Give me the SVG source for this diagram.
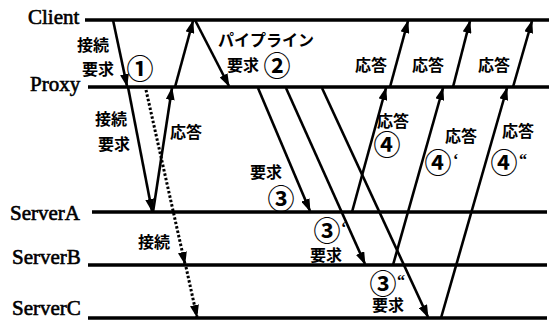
<svg xmlns="http://www.w3.org/2000/svg" width="549" height="320" viewBox="0 0 549 320">
<defs>
<marker id="ah" markerUnits="userSpaceOnUse" markerWidth="13" markerHeight="9" refX="12" refY="4.5" orient="auto">
<path d="M0,0 L13,4.5 L0,9 z" fill="#000"/>
</marker>
</defs>
<style>
.lane{stroke:#000;stroke-width:3.5;fill:none}
.lbl{font-family:"Liberation Serif","Times New Roman",serif;font-size:21px;fill:#000;stroke:#000;stroke-width:0.6}
.a{stroke:#000;stroke-width:2.6;fill:none;marker-end:url(#ah)}
.d{stroke:#000;stroke-width:3;fill:none;stroke-dasharray:2.5 2;marker-end:url(#ah)}
.j{font-family:"Noto Sans CJK JP","Noto Sans",sans-serif;font-weight:bold;font-size:16px;fill:#000}
.c{font-family:"Noto Sans CJK JP","Noto Sans",sans-serif;font-weight:bold;font-size:27px;fill:#000;text-anchor:middle;dominant-baseline:central}
.p{font-family:"Liberation Serif",serif;font-weight:bold;font-size:16px;fill:#000}
</style>
<rect width="549" height="320" fill="#fff"/>
<g id="Client"><line class="lane" x1="85" y1="20" x2="549" y2="20"/><text class="lbl" x="28" y="24">Client</text></g>
<g id="Proxy"><line class="lane" x1="88" y1="87" x2="549" y2="87"/><text class="lbl" x="30" y="91">Proxy</text></g>
<g id="ServerA"><line class="lane" x1="92" y1="212" x2="547" y2="212"/><text class="lbl" x="10" y="220">ServerA</text></g>
<g id="ServerB"><line class="lane" x1="88" y1="265" x2="547" y2="265"/><text class="lbl" x="12" y="264">ServerB</text></g>
<g id="ServerC"><line class="lane" x1="88" y1="318" x2="547" y2="318"/><text class="lbl" x="12" y="315">ServerC</text></g>
<g id="connectors">
<line class="a" x1="113" y1="20" x2="127" y2="86"/>
<line class="a" x1="128" y1="87" x2="152" y2="211"/>
<line class="a" x1="153" y1="212" x2="172" y2="88"/>
<line class="a" x1="175" y1="87" x2="193" y2="21"/>
<line class="d" x1="146" y1="90" x2="185" y2="264"/>
<line class="d" x1="186" y1="267" x2="197" y2="317"/>
<line class="a" x1="195" y1="20" x2="229" y2="86"/>
<line class="a" x1="258" y1="88" x2="310" y2="211"/>
<line class="a" x1="286" y1="88" x2="365" y2="264"/>
<line class="a" x1="322" y1="88" x2="428" y2="317"/>
<line class="a" x1="352" y1="212" x2="386" y2="88"/>
<line class="a" x1="390" y1="87" x2="408" y2="21"/>
<line class="a" x1="393" y1="265" x2="443" y2="88"/>
<line class="a" x1="453" y1="87" x2="470" y2="21"/>
<line class="a" x1="441" y1="318" x2="507" y2="88"/>
<line class="a" x1="513" y1="87" x2="532" y2="21"/>
</g>
<g id="labels">
<text class="j" x="77" y="51">接続</text>
<text class="j" x="82" y="75">要求</text>
<text class="c" x="140" y="67">①</text>
<text class="j" x="95" y="125">接続</text>
<text class="j" x="98" y="150">要求</text>
<text class="j" x="170" y="138">応答</text>
<text class="j" x="138" y="248">接続</text>
<text class="j" x="218" y="46">パイプライン</text>
<text class="j" x="227" y="71">要求</text>
<text class="c" x="277" y="64">②</text>
<text class="j" x="355" y="71">応答</text>
<text class="j" x="412" y="71">応答</text>
<text class="j" x="478" y="71">応答</text>
<text class="j" x="250" y="178">要求</text>
<text class="c" x="281" y="197">③</text>
<text class="c" x="327" y="229">③</text>
<text class="p" x="341" y="233">‘</text>
<text class="j" x="310" y="261">要求</text>
<text class="c" x="383" y="282">③</text>
<text class="p" x="397" y="286">“</text>
<text class="j" x="372" y="311">要求</text>
<text class="j" x="377" y="127">応答</text>
<text class="c" x="387" y="143">④</text>
<text class="j" x="445" y="142">応答</text>
<text class="c" x="438" y="161">④</text>
<text class="p" x="453" y="165">‘</text>
<text class="j" x="502" y="137">応答</text>
<text class="c" x="504" y="161">④</text>
<text class="p" x="519" y="165">“</text>
</g>
</svg>
